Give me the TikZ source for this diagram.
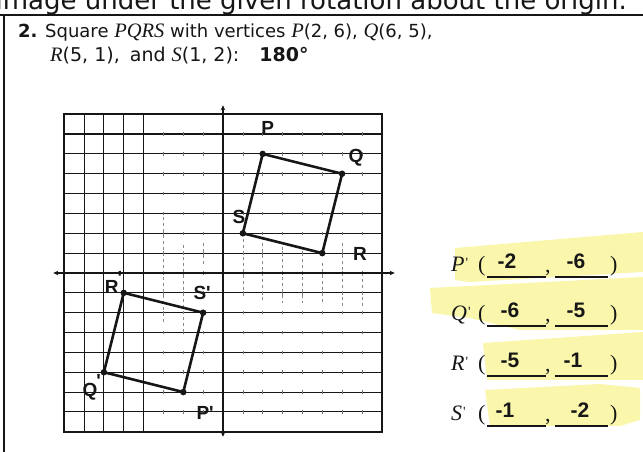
\documentclass[tikz,border=0pt]{standalone}
\usepackage{fontspec}
\setmainfont{DejaVu Sans}
\newfontfamily\serifit{Liberation Serif}
\newfontfamily\hand{Liberation Sans}
\usetikzlibrary{arrows.meta}
\definecolor{hl}{RGB}{250,247,172}
\definecolor{ink}{RGB}{22,22,22}
\newcommand{\vtx}[1]{{\serifit\itshape\fontsize{20.5}{20}\selectfont #1}}
\begin{document}
\begin{tikzpicture}[x=1pt,y=1pt,
  gridline/.style={line width=1.1pt, ink},
  vgrid/.style={line width=1.0pt, ink},
  frameline/.style={line width=1.6pt, ink},
  axisline/.style={line width=1.8pt, ink, {Stealth[length=5pt,width=4.5pt]}-{Stealth[length=5pt,width=4.5pt]}},
  faint/.style={line width=0.7pt, ink!50, dash pattern=on 3pt off 3pt},
  tickmark/.style={line width=0.6pt, ink!60},
  sqedge/.style={line width=2.6pt, ink, line join=round},
  vdot/.style={circle, fill=ink, inner sep=0pt, minimum size=6.5pt},
  hw/.style={font=\hand\bfseries\fontsize{19}{19}\selectfont, inner sep=0pt, text=ink},
  hwnum/.style={font=\hand\bfseries\fontsize{21}{21}\selectfont, inner sep=0pt, anchor=base, text=ink},
  prt/.style={font=\fontsize{18}{20}\selectfont, inner sep=0pt, anchor=base west, text=ink},
  lbl/.style={font=\serifit\itshape\fontsize{22}{22}\selectfont, inner sep=0pt, anchor=base west, text=ink},
  paren/.style={font=\serifit\fontsize{22}{22}\selectfont, inner sep=0pt, anchor=base west, text=ink},
  blank/.style={line width=1.4pt, ink},
  hlfill/.style={fill=hl}
]
\useasboundingbox (0,0) rectangle (643,452);
\fill[white] (0,0) rectangle (643,452);

% highlighter bands
\fill[hlfill] (455,204) -- (643,220) -- (643,180) -- (470,170) -- (455,172) -- cycle;
\fill[hlfill] (430,164) -- (643,175) -- (643,122) -- (520,122) -- (470,134) -- (432,139) -- cycle;
\fill[hlfill] (483,109) -- (643,120) -- (643,72) -- (487,72) -- cycle;
\fill[hlfill] (485,62) -- (600,68) -- (640,64) -- (640,32) -- (620,26) -- (490,26) -- cycle;

% page frame
\draw[frameline] (0,437) -- (643,437);
\draw[frameline] (4,437) -- (4,0);

% cut-off instruction line (cut by the page edge as in the scan)
\begin{scope}
\clip (0,0) rectangle (643,452);
\node[font=\fontsize{26}{26}\selectfont, inner sep=0pt, anchor=base east, text=ink] (instr) at (627,442.7) {Graph the image under the given rotation about the origin.};
\end{scope}

% problem statement
\node[prt] (line1) at (18,414) {\textbf{2.} Square \vtx{PQRS} with vertices \vtx{P}(2, 6), \vtx{Q}(6, 5),};
\node[prt, font=\fontsize{19}{20}\selectfont] (line2) at (50,390) {\vtx{R}(5, 1),\hspace{4pt} and \vtx{S}(1, 2):\hspace{12pt} \textbf{180°}};

% coordinate grid
\begin{scope}[shift={(223,179)}, x=19.85pt, y=19.85pt]
  \foreach \y in {-7,...,7} \draw[gridline] (-8,\y) -- (8,\y);
  \foreach \x in {-7,...,-4} \draw[vgrid] (\x,-8) -- (\x,8);
  \foreach \y in {-7,...,7} \foreach \x in {-3,...,7} \draw[tickmark] (\x,\y-0.09) -- (\x,\y+0.09);
  % faint partial verticals
  \draw[faint] (-3,2.8) -- (-3,-2.5);
  \draw[faint] (-2,1.4) -- (-2,-3);
  \draw[faint] (-1,1.5) -- (-1,0.3);
  \draw[faint] (1,2) -- (1,-1.2);
  \draw[faint] (2,1.8) -- (2,-1.5);
  \draw[faint] (3,1.3) -- (3,-1.5);
  \draw[faint] (4,1.3) -- (4,-1.5);
  \draw[faint] (5,0.5) -- (5,-1.5);
  \draw[faint] (6,1.5) -- (6,-1.7);
  \draw[faint] (7,0) -- (7,-1.7);
  \draw[frameline] (-8,-8) rectangle (8,8);
  \draw[axisline] (-8.55,0) -- (8.65,0);
  \draw[axisline] (0,-8.25) -- (0,8.45);

  % original square
  \coordinate (P) at (2,6);
  \coordinate (Q) at (6,5);
  \coordinate (R) at (5,1);
  \coordinate (S) at (1,2);
  \draw[sqedge] (P) -- (Q) -- (R) -- (S) -- cycle;
  \node[vdot] (dP) at (P) {};
  \node[vdot] (dQ) at (Q) {};
  \node[vdot] (dR) at (R) {};
  \node[vdot] (dS) at (S) {};
  % image square
  \coordinate (P1) at (-2,-6);
  \coordinate (Q1) at (-6,-5);
  \coordinate (R1) at (-5,-1);
  \coordinate (S1) at (-1,-2);
  \draw[sqedge] (P1) -- (Q1) -- (R1) -- (S1) -- cycle;
  \node[vdot] (dP1) at (P1) {};
  \node[vdot] (dQ1) at (Q1) {};
  \node[vdot] (dR1) at (R1) {};
  \node[vdot] (dS1) at (S1) {};

  % handwritten labels
  \node[hw] (lP) at (2.25,7.3) {P};
  \node[hw] (lQ) at (6.7,5.83) {Q};
  \node[hw] (lS) at (0.8,2.8) {S};
  \node[hw] (lR) at (6.9,0.97) {R};
  \node[hw] (lR1) at (-5.6,-0.5) {R\rlap{\raisebox{9pt}{\kern-1pt\textquotesingle}}};
  \node[hw] (lS1) at (-1.05,-1.0) {S\textquotesingle};
  \node[hw] (lQ1) at (-6.7,-5.75) {Q\rlap{\raisebox{9pt}{\kern-1pt\textquotesingle}}};
  \node[hw] (lP1) at (-0.9,-7.05) {P\textquotesingle};
\end{scope}

% answer blanks
\foreach \L/\a/\b/\ca/\cb/\yb [count=\i] in {P/-2/-6/507/576/180, Q/-6/-5/510/576/131, R/-5/-1/510/573/81, S/-1/-2/505/580/31} {
  \node[lbl] (ans\i) at (451,\yb) {\L\kern1pt{\upshape\fontsize{14}{14}\selectfont\raisebox{4pt}{\textquotesingle}}};
  \node[paren] (op\i) at (478,\yb) {(};
  \draw[blank] (487,\yb-5) coordinate (u\i a) -- (546,\yb-5) coordinate (u\i b);
  \node[paren] (cm\i) at (545,\yb-1) {,};
  \draw[blank] (555,\yb-5) coordinate (v\i a) -- (608,\yb-5) coordinate (v\i b);
  \node[paren] (cp\i) at (610,\yb) {)};
  \node[hwnum] (na\i) at (\ca,\yb+3) {\a};
  \node[hwnum] (nb\i) at (\cb,\yb+3) {\b};
}
\end{tikzpicture}
\end{document}
